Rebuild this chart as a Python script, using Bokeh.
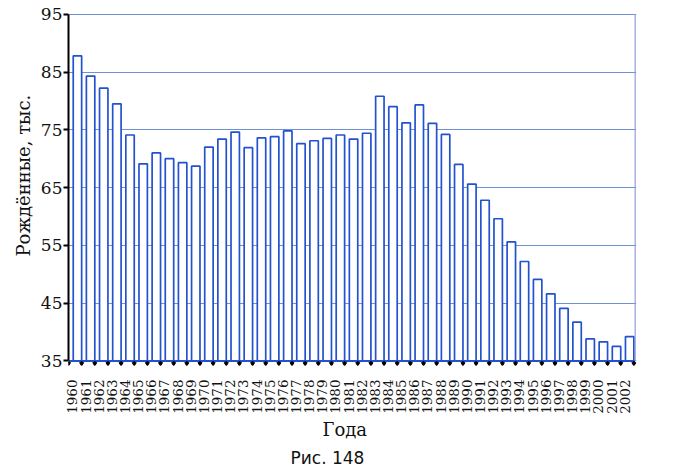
import math
from bokeh.plotting import figure
from bokeh.models import FixedTicker, Range1d, Title
from bokeh.embed import file_html
from bokeh.resources import INLINE

years = list(range(1960, 2003))
births = [87.8, 84.3, 82.2, 79.5, 74.1, 69.1, 71.0, 70.0, 69.3, 68.7,
          72.0, 73.4, 74.6, 71.9, 73.6, 73.8, 74.8, 72.6, 73.1, 73.5,
          74.1, 73.4, 74.4, 80.8, 79.0, 76.2, 79.3, 76.1, 74.2, 69.0,
          65.6, 62.8, 59.6, 55.6, 52.2, 49.1, 46.6, 44.1, 41.7, 38.8,
          38.3, 37.5, 39.2]
y_ticks = [35, 45, 55, 65, 75, 85, 95]
y_title = "Рождённые, тыс."
x_title = "Года"
caption = "Рис. 148"

BLUE = "#2352cf"
GRID = "#7090d6"
SERIF = "DejaVu Serif"

n = len(years)
p = figure(width=680, height=473, output_backend="svg", toolbar_location=None,
           x_range=Range1d(0, 43.2), y_range=Range1d(34.2, 95.3),
           min_border_left=68, min_border_right=44, min_border_top=12,
           min_border_bottom=100)
p.outline_line_color = None
p.background_fill_color = "white"

# grid lines
p.xgrid.visible = False
p.ygrid.ticker = FixedTicker(ticks=y_ticks)
p.ygrid.grid_line_color = GRID
p.ygrid.grid_line_width = 1.2

# bars
slot = list(range(n))
bar_x = [i + 0.68 for i in slot]
p.vbar(x=bar_x, top=births, bottom=35, width=0.64,
       fill_color="white", line_color=BLUE, line_width=1.7)

# baseline and right border
p.segment(x0=[0], y0=[35], x1=[43.1], y1=[35], line_color=BLUE, line_width=2)
p.segment(x0=[43.1], y0=[35], x1=[43.1], y1=[95], line_color="#8f9ed8", line_width=1.2)

# tick marks at slot boundaries
tick_x = list(range(0, n + 1))
p.segment(x0=tick_x, y0=[35] * len(tick_x), x1=tick_x, y1=[34.3] * len(tick_x),
          line_color="black", line_width=1.6)
p.scatter(x=tick_x, y=[34.5] * len(tick_x), marker="inverted_triangle", size=4,
          color="black")

# y axis
ya = p.yaxis[0]
ya.ticker = FixedTicker(ticks=y_ticks)
ya.bounds = (35, 95)
ya.axis_line_color = "black"
ya.axis_line_width = 2
ya.major_tick_line_color = "black"
ya.major_tick_line_width = 2
ya.major_tick_out = 5
ya.major_tick_in = 0
ya.minor_tick_line_color = None
ya.major_label_standoff = 1
ya.major_label_text_font = SERIF
ya.major_label_text_font_size = "17px"
ya.major_label_text_color = "#111111"

# x axis: year labels
xa = p.xaxis[0]
label_pos = [i + 0.3 for i in slot]
xa.ticker = FixedTicker(ticks=label_pos)
xa.major_label_overrides = {pos: str(y) for pos, y in zip(label_pos, years)}
xa.major_label_orientation = math.pi / 2
xa.axis_line_color = None
xa.major_tick_line_color = None
xa.minor_tick_line_color = None
xa.major_label_standoff = 8
xa.major_label_text_font = SERIF
xa.major_label_text_font_size = "13.5px"
xa.major_label_text_color = "#111111"

# titles
p.add_layout(Title(text=y_title, align="left", offset=109,
                   text_font=SERIF, text_font_size="18px", text_font_style="normal",
                   text_color="#111111", standoff=8), "left")
p.add_layout(Title(text=x_title, align="left", offset=254,
                   text_font=SERIF, text_font_size="18px", text_font_style="normal",
                   text_color="#111111", standoff=1), "below")
p.add_layout(Title(text=caption, align="left", offset=222,
                   text_font="DejaVu Sans", text_font_size="17px", text_font_style="normal",
                   text_color="#111111", standoff=11), "below")

open("out.html", "w").write(file_html(p, INLINE))
